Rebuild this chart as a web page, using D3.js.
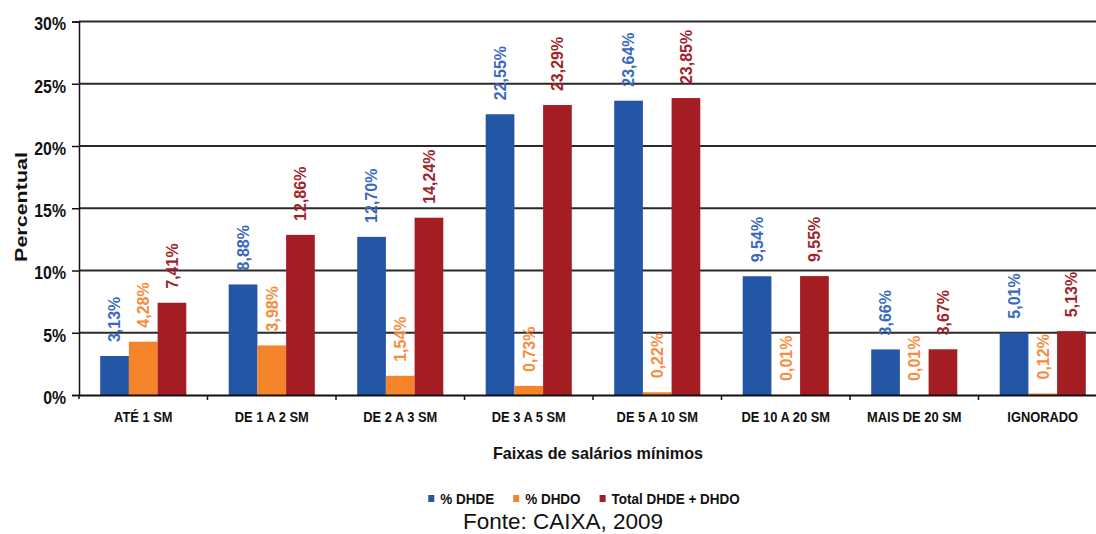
<!DOCTYPE html>
<html>
<head>
<meta charset="utf-8">
<script src="https://cdn.jsdelivr.net/npm/d3@7"></script>
<style>
  html, body { margin: 0; padding: 0; background: #fff; }
  svg { display: block; }
  text { font-family: "Liberation Sans", Arial, Helvetica, sans-serif; }
</style>
</head>
<body>
<svg id="chart" width="1096" height="534"></svg>
<script>
// ---- Data ----
const categories = ["ATÉ 1 SM", "DE 1 A 2 SM", "DE 2 A 3 SM", "DE 3 A 5 SM", "DE 5 A 10 SM", "DE 10 A 20 SM", "MAIS DE 20 SM", "IGNORADO"];
const seriesNames = ["% DHDE", "% DHDO", "Total DHDE + DHDO"];
const dhde  = [3.13, 8.88, 12.70, 22.55, 23.64, 9.54, 3.66, 5.01];
const dhdo  = [4.28, 3.98, 1.54, 0.73, 0.22, 0.01, 0.01, 0.12];
const total = [7.41, 12.86, 14.24, 23.29, 23.85, 9.55, 3.67, 5.13];
const yTicks = [0, 5, 10, 15, 20, 25, 30];
const barColors = ["#2456A6", "#F5832A", "#A31D22"];
const labelColors = ["#3A68BC", "#F68C3E", "#A0232A"];
const xTitle = "Faixas de salários mínimos";
const yTitle = "Percentual";
const sourceText = "Fonte: CAIXA, 2009";

const seriesValues = [dhde, dhdo, total];
const fmt = v => v.toFixed(2).replace(".", ",") + "%";

const svg = d3.select("#chart");
const plotLeft = 79, plotTop = 21.5, plotBottom = 395;
const bandW = 128.5;

const x = d3.scaleBand().domain(categories).range([plotLeft, plotLeft + bandW * categories.length]).padding(0);
const y = d3.scaleLinear().domain([0, 30]).range([plotBottom, plotTop]);
const x1 = d3.scaleBand().domain(seriesNames).range([x.bandwidth() * 0.165, x.bandwidth() * 0.835]).padding(0);

// gridlines
svg.append("g").selectAll("line").data(yTicks.filter(d => d > 0)).join("line")
  .attr("x1", plotLeft).attr("x2", 1096)
  .attr("y1", d => y(d)).attr("y2", d => y(d))
  .attr("stroke", "#2a2a2a").attr("stroke-width", 2);

// y axis
const yAxis = d3.axisLeft(y).tickValues(yTicks).tickSize(7).tickFormat(d => d + "%");
const gy = svg.append("g").attr("transform", `translate(${plotLeft},0)`).call(yAxis);
gy.select(".domain").attr("stroke", "#111").attr("stroke-width", 1.5);
gy.selectAll(".tick line").attr("stroke", "#111").attr("stroke-width", 1.5);
gy.selectAll(".tick text").remove();
gy.selectAll(".tick").append("g")
  .attr("transform", "translate(-13,2) scale(0.88,1)")
  .append("text")
  .attr("text-anchor", "end").attr("dy", "0.35em")
  .attr("font-size", 18).attr("font-weight", "bold").attr("fill", "#111")
  .text(d => d + "%");

// bars
const groups = svg.append("g").selectAll("g").data(categories).join("g")
  .attr("transform", d => `translate(${x(d)},0)`);

seriesNames.forEach((s, si) => {
  groups.append("rect")
    .attr("x", x1(s))
    .attr("width", x1.bandwidth())
    .attr("y", (d, i) => y(seriesValues[si][i]))
    .attr("height", (d, i) => plotBottom - y(seriesValues[si][i]))
    .attr("fill", barColors[si]);
  groups.append("text")
    .attr("transform", (d, i) => `translate(${x1(s) + x1.bandwidth() / 2},${y(seriesValues[si][i]) - 14}) rotate(-90)`)
    .attr("dy", "0.36em")
    .attr("text-anchor", "start")
    .attr("font-size", 16).attr("font-weight", "bold")
    .attr("fill", labelColors[si])
    .text((d, i) => fmt(seriesValues[si][i]));
});

// x axis
const xAxis = d3.axisBottom(x).tickSize(0).tickFormat("");
const gx = svg.append("g").attr("transform", `translate(0,${plotBottom})`).call(xAxis);
gx.select(".domain").attr("stroke", "#111").attr("stroke-width", 2);
gx.selectAll(".tick").remove();
// boundary ticks
gx.append("g").selectAll("line").data(categories.slice(1)).join("line")
  .attr("x1", d => x(d)).attr("x2", d => x(d))
  .attr("y1", 0).attr("y2", 5)
  .attr("stroke", "#111").attr("stroke-width", 1.5);
gx.append("line").attr("x1", plotLeft).attr("x2", plotLeft).attr("y1", 0).attr("y2", 4).attr("stroke", "#111").attr("stroke-width", 1.5);
// category labels
gx.append("g").selectAll("g").data(categories).join("g")
  .attr("transform", d => `translate(${x(d) + x.bandwidth() / 2},27) scale(0.92,1)`)
  .append("text")
  .attr("text-anchor", "middle")
  .attr("font-size", 14).attr("font-weight", "bold").attr("fill", "#111")
  .text(d => d);

// x title
svg.append("g").attr("transform", "translate(598,459) scale(0.95,1)")
  .append("text").attr("text-anchor", "middle")
  .attr("font-size", 17).attr("font-weight", "bold").attr("fill", "#111")
  .text(xTitle);

// y title
svg.append("g").attr("transform", "translate(27,207) rotate(-90) scale(1,0.8)")
  .append("text").attr("text-anchor", "middle")
  .attr("font-size", 21.5).attr("font-weight", "bold").attr("fill", "#111")
  .text(yTitle);

// legend
const legScale = 0.87, legGapSq = 6, legGapItem = 19, sq = 6;
const legend = svg.append("g");
const widths = [];
const items = seriesNames.map((name, i) => {
  const g = legend.append("g");
  g.append("rect").attr("x", 0).attr("y", -9).attr("width", sq).attr("height", 7).attr("fill", barColors[i]);
  const t = g.append("g").attr("transform", `translate(${sq + legGapSq},0) scale(${legScale},1)`)
    .append("text").attr("font-size", 15.5).attr("font-weight", "bold").attr("fill", "#111").text(name);
  widths.push(sq + legGapSq + t.node().getComputedTextLength() * legScale);
  return g;
});
const totalW = d3.sum(widths) + legGapItem * (widths.length - 1);
let cx = 584 - totalW / 2;
items.forEach((g, i) => { g.attr("transform", `translate(${cx},504)`); cx += widths[i] + legGapItem; });

// source
svg.append("text").attr("x", 563).attr("y", 529).attr("text-anchor", "middle")
  .attr("font-size", 22.5).attr("fill", "#111").text(sourceText);
</script>
</body>
</html>
